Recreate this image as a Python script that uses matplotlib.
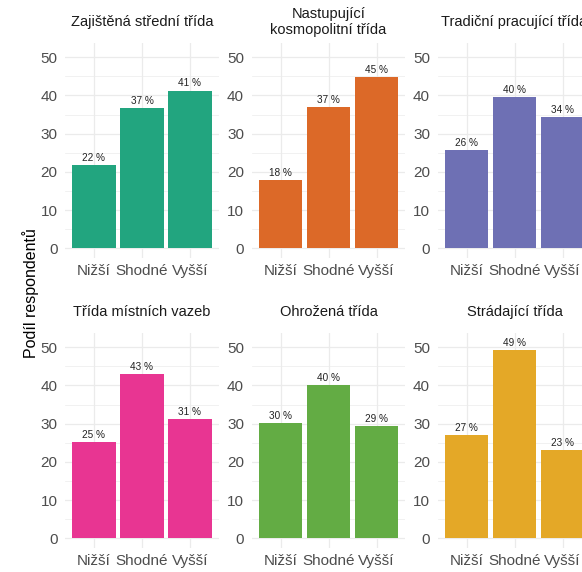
import numpy as np
import matplotlib
matplotlib.use("Agg")
import matplotlib.pyplot as plt
from matplotlib.ticker import MultipleLocator

plt.rcParams['font.family'] = ['Liberation Sans', 'DejaVu Sans']

# Data
classes = ["Zajištěná střední třída", "Nastupující\nkosmopolitní třída",
           "Tradiční pracující třída", "Třída místních vazeb",
           "Ohrožená třída", "Strádající třída"]
categories = ["Nižší", "Shodné", "Vyšší"]
values = [
    [21.8, 36.7, 41.3],
    [17.9, 37.0, 44.9],
    [25.8, 39.6, 34.4],
    [25.3, 43.1, 31.3],
    [30.2, 40.2, 29.4],
    [27.1, 49.3, 23.2],
]
colors = ["#22A57F", "#DC6928", "#6E70B4", "#E83592", "#63AC44", "#E4A827"]

W, H = 582, 572
fig = plt.figure(figsize=(W / 100, H / 100), dpi=100)

col_left = [65.2, 251.7, 437.7]   # px
row_top = [43.3, 333.3]           # px
pw, ph = 153.6, 214.7

x = np.arange(len(categories))
for i, name in enumerate(classes):
    r, c = divmod(i, 3)
    ax = fig.add_axes([col_left[c] / W, 1 - (row_top[r] + ph) / H, pw / W, ph / H])
    ax.set_axisbelow(True)
    ax.bar(x, values[i], width=0.9, color=colors[i], zorder=2)
    for xi, v in zip(x, values[i]):
        ax.annotate(f"{round(v):.0f} %", (xi, v), xytext=(0, 1.5),
                    textcoords="offset points", ha="center", va="bottom",
                    fontsize=7.2, color="#222222")
    ax.set_xlim(-0.6, 2.6)
    ax.set_ylim(-2.54, 53.66)
    ax.set_xticks(x)
    ax.set_xticklabels(categories)
    ax.yaxis.set_major_locator(MultipleLocator(10))
    ax.yaxis.set_minor_locator(MultipleLocator(5))
    ax.tick_params(axis="both", which="both", length=0, labelsize=11,
                   labelcolor="#4D4D4D")
    ax.tick_params(axis="y", pad=5.5)
    ax.tick_params(axis="x", pad=4)
    ax.grid(True, which="major", color="#EBEBEB", linewidth=0.9)
    ax.grid(True, which="minor", axis="y", color="#EBEBEB", linewidth=0.5)
    for s in ax.spines.values():
        s.set_visible(False)
    ax.set_title(name, fontsize=10.5, color="#1A1A1A", pad=0, y=1,
                 va="center", linespacing=1.1)
    ax.title.set_position((0.5, 1 + 21.3 / ph))

fig.text(31 / W, 1 - 293 / H, "Podíl respondentů", rotation=90,
         ha="center", va="center", fontsize=11.5, color="black")

fig.savefig("out.png", dpi=100)
